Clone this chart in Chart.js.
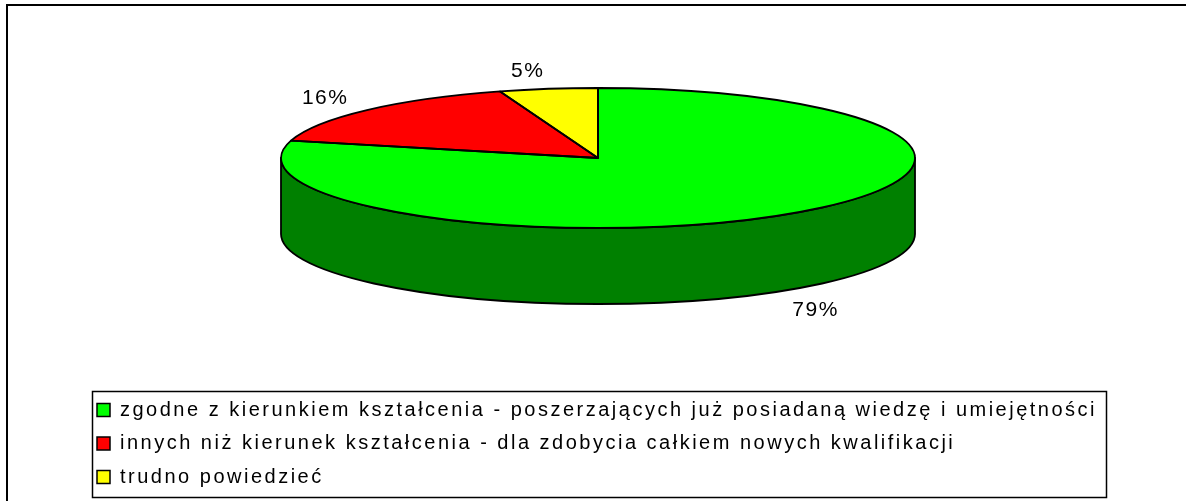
<!DOCTYPE html>
<html>
<head>
<meta charset="utf-8">
<script src="https://cdn.jsdelivr.net/npm/chart.js@4.4.0/dist/chart.umd.min.js"></script>
<style>
  html, body { margin: 0; padding: 0; background: #fff; }
  #chart { display: block; }
</style>
</head>
<body>
<canvas id="chart" width="1186" height="501"></canvas>
<script>
// data
var categories = [
  "zgodne z kierunkiem kształcenia - poszerzających już posiadaną wiedzę i umiejętności",
  "innych niż kierunek kształcenia - dla zdobycia całkiem nowych kwalifikacji",
  "trudno powiedzieć"
];
var shares = [79, 16, 5];
var topColors = ["#00ff00", "#ff0000", "#ffff00"];
var sideColors = ["#008000", "#800000", "#808000"];

// where the flattened 3d pie sits on the page
var pie = { cx: 598, cy: 158, rx: 317, ry: 70, depth: 76 };
var FONT = "'Liberation Sans', Arial, sans-serif";
var LEGEND_SPACING = "2.5px";

function ellipsePoint(a, dy) {
  return { x: pie.cx + pie.rx * Math.cos(a), y: pie.cy + (dy || 0) + pie.ry * Math.sin(a) };
}

var pie3d = {
  id: "pie3d",
  beforeLayout: function(chart) {
    chart.ctx.letterSpacing = LEGEND_SPACING;
  },
  beforeDraw: function(chart) {
    var ctx = chart.ctx;
    ctx.save();
    ctx.fillStyle = "#fff";
    ctx.fillRect(0, 0, chart.width, chart.height);
    ctx.strokeStyle = "#000";
    ctx.lineWidth = 2;
    ctx.strokeRect(7, 5, chart.width + 20, chart.height + 20);
    ctx.restore();
    ctx.letterSpacing = LEGEND_SPACING;
  },
  beforeDatasetsDraw: function(chart) {
    var ctx = chart.ctx;
    var arcs = chart.getDatasetMeta(0).data;
    // side walls (only the front half shows)
    ctx.save();
    ctx.strokeStyle = "#000";
    ctx.lineWidth = 1.8;
    ctx.lineJoin = "round";
    arcs.forEach(function(arc, i) {
      var s = arc.startAngle, e = arc.endAngle;
      [-2 * Math.PI, 0, 2 * Math.PI].forEach(function(off) {
        var a = Math.max(s, off), b = Math.min(e, off + Math.PI);
        if (b <= a) return;
        ctx.beginPath();
        ctx.ellipse(pie.cx, pie.cy, pie.rx, pie.ry, 0, a, b, false);
        var p = ellipsePoint(b, pie.depth);
        ctx.lineTo(p.x, p.y);
        ctx.ellipse(pie.cx, pie.cy + pie.depth, pie.rx, pie.ry, 0, b, a, true);
        ctx.closePath();
        ctx.fillStyle = sideColors[i];
        ctx.fill();
        ctx.stroke();
      });
    });
    ctx.restore();
    // squash the library's round pie onto the top face ellipse
    var a0 = arcs[0];
    ctx.save();
    ctx.translate(pie.cx, pie.cy);
    ctx.scale(pie.rx / a0.outerRadius, pie.ry / a0.outerRadius);
    ctx.translate(-a0.x, -a0.y);
  },
  afterDatasetsDraw: function(chart) {
    var ctx = chart.ctx;
    var arcs = chart.getDatasetMeta(0).data;
    ctx.restore();
    ctx.save();
    ctx.strokeStyle = "#000";
    ctx.lineWidth = 1.8;
    ctx.lineJoin = "round";
    arcs.forEach(function(arc) {
      ctx.beginPath();
      ctx.moveTo(pie.cx, pie.cy);
      ctx.ellipse(pie.cx, pie.cy, pie.rx, pie.ry, 0, arc.startAngle, arc.endAngle, false);
      ctx.closePath();
      ctx.stroke();
    });
    // percent labels
    var total = shares.reduce(function(t, v) { return t + v; }, 0);
    ctx.letterSpacing = "1.5px";
    ctx.font = "21px " + FONT;
    ctx.fillStyle = "#000";
    ctx.textBaseline = "middle";
    arcs.forEach(function(arc, i) {
      var m = (arc.startAngle + arc.endAngle) / 2;
      var c = Math.cos(m), s = Math.sin(m);
      var x, y;
      if (s < 0) {
        x = pie.cx + pie.rx * 1.08 * c;
        y = pie.cy + pie.ry * 1.25 * s;
      } else {
        x = pie.cx + pie.rx * c;
        y = pie.cy + pie.ry * 1.3 * s + pie.depth + 4;
      }
      ctx.textAlign = c < 0 ? "right" : "left";
      ctx.fillText(Math.round(shares[i] / total * 100) + "%", x, y);
    });
    ctx.restore();
    ctx.letterSpacing = LEGEND_SPACING;
  },
  afterDraw: function(chart) {
    // frame round the legend
    var hb = chart.legend.legendHitBoxes;
    if (!hb || !hb.length) return;
    var first = hb[0], last = hb[hb.length - 1];
    var top = first.top + first.height / 2 - 19;
    var bottom = last.top + last.height / 2 + 20;
    var ctx = chart.ctx;
    ctx.save();
    ctx.strokeStyle = "#000";
    ctx.lineWidth = 1.5;
    ctx.strokeRect(92.5, Math.round(top) + 0.5, 1106 - 92, Math.round(bottom - top));
    ctx.restore();
  }
};

var basePieLabels = (Chart.overrides.pie || Chart.overrides.doughnut).plugins.legend.labels.generateLabels;

new Chart(document.getElementById("chart"), {
  type: "pie",
  data: {
    labels: categories,
    datasets: [{
      data: shares,
      backgroundColor: topColors,
      borderWidth: 0,
      clip: false
    }]
  },
  options: {
    responsive: false,
    animation: false,
    events: [],
    devicePixelRatio: 1,
    layout: { padding: { left: 83.5, right: 70, top: 10, bottom: 4 } },
    plugins: {
      tooltip: { enabled: false },
      legend: {
        position: "bottom",
        align: "start",
        labels: {
          boxWidth: 13,
          boxHeight: 13,
          padding: 13.5,
          color: "#000",
          font: { family: FONT, size: 20 },
          generateLabels: function(chart) {
            var items = basePieLabels(chart);
            items.forEach(function(it) {
              it.strokeStyle = "#000";
              it.lineWidth = 1.5;
            });
            return items;
          }
        }
      }
    }
  },
  plugins: [pie3d]
});
</script>
</body>
</html>
